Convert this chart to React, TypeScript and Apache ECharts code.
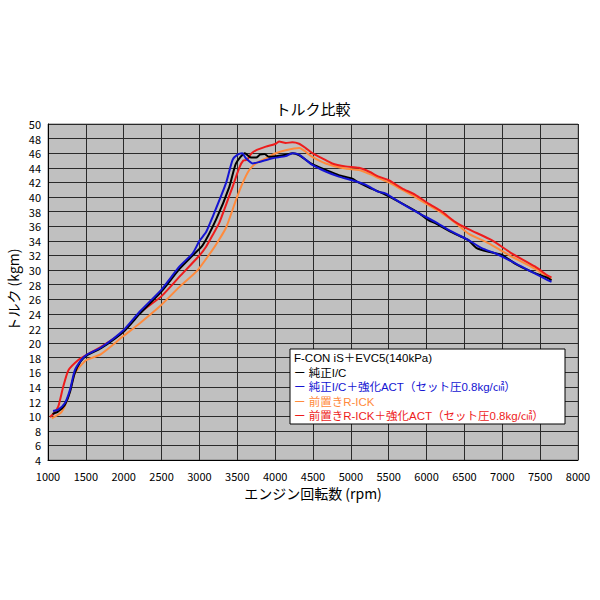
import React, { useEffect, useRef } from "react";
import * as echarts from "echarts";

const chartTitle = "トルク比較";
const xTitle = "エンジン回転数 (rpm)";
const yTitle = "トルク (kgm)";
const legendTitle = "F-CON iS＋EVC5(140kPa)";
const seriesNames = [
  "純正I/C",
  "純正I/C＋強化ACT（セット圧0.8kg/㎠）",
  "前置きR-ICK",
  "前置きR-ICK＋強化ACT（セット圧0.8kg/㎠）",
];
const seriesColors = ["#000000", "#1414d2", "#ff8a3c", "#ee1c1c"];

const blackRpm = [1060, 1130, 1220, 1290, 1350, 1430, 1510, 1700, 2000, 2210, 2500, 2740, 2910, 3043, 3219, 3395, 3483, 3600, 3680, 3750, 3800, 3860, 3920, 4010, 4140, 4230, 4320, 4490, 4670, 4840, 5020, 5100, 5240, 5460, 5680, 5900, 6030, 6120, 6290, 6450, 6553, 6662, 6816, 6991, 7167, 7386, 7605, 7650];
const blackTorque = [10.3, 10.6, 11.5, 13.3, 15.8, 17.5, 18.3, 19.3, 21.6, 24.0, 27.1, 30.2, 32.0, 33.4, 36.9, 41.4, 44.6, 46.0, 45.4, 45.4, 45.8, 45.9, 45.5, 45.6, 45.8, 46.0, 45.7, 44.5, 43.7, 43.0, 42.5, 42.0, 41.3, 40.3, 39.1, 37.8, 36.8, 36.4, 35.4, 34.6, 34.1, 33.0, 32.5, 32.1, 30.9, 29.8, 28.9, 28.6];

const blueRpm = [1066, 1135, 1224, 1290, 1355, 1440, 1510, 1700, 2000, 2210, 2496, 2737, 2912, 3000, 3088, 3175, 3351, 3438, 3504, 3565, 3614, 3702, 3790, 3965, 4140, 4228, 4316, 4491, 4667, 4842, 5017, 5193, 5368, 5456, 5675, 5895, 6114, 6290, 6553, 6728, 6904, 7123, 7342, 7605, 7650];
const blueTorque = [10.7, 10.9, 11.8, 13.6, 16.3, 17.7, 18.4, 19.4, 21.8, 24.3, 27.3, 30.5, 32.3, 34.0, 35.2, 37.3, 41.9, 45.1, 45.8, 46.0, 45.3, 44.6, 44.8, 45.3, 45.6, 46.0, 45.8, 44.4, 43.5, 42.8, 42.3, 41.7, 40.7, 40.5, 39.1, 37.8, 36.6, 35.5, 34.1, 33.0, 32.3, 31.2, 30.0, 28.6, 28.4];

const orangeRpm = [1050, 1180, 1270, 1355, 1465, 1510, 1700, 2000, 2210, 2474, 2737, 2978, 3175, 3220, 3351, 3483, 3570, 3658, 3746, 3877, 4009, 4140, 4316, 4491, 4667, 4930, 5105, 5236, 5368, 5500, 5675, 5851, 6026, 6202, 6377, 6553, 6816, 7079, 7430, 7605, 7650];
const orangeTorque = [9.7, 10.6, 12.7, 15.9, 17.3, 17.7, 18.5, 21.0, 22.7, 25.0, 27.7, 30.0, 32.8, 33.5, 35.8, 39.6, 41.9, 43.7, 44.6, 45.3, 46.0, 46.4, 46.7, 45.5, 44.6, 43.9, 43.7, 43.2, 42.6, 42.0, 41.0, 40.0, 38.9, 37.8, 36.5, 35.0, 33.7, 32.1, 30.2, 29.0, 28.8];

const redRpm = [1026, 1080, 1135, 1200, 1270, 1400, 1510, 1700, 2000, 2210, 2496, 2737, 3000, 3088, 3175, 3263, 3350, 3438, 3526, 3580, 3630, 3680, 3746, 3877, 4009, 4053, 4140, 4228, 4316, 4404, 4491, 4623, 4754, 4930, 5105, 5236, 5368, 5500, 5675, 5851, 6026, 6202, 6377, 6553, 6860, 7123, 7430, 7605, 7650];
const redTorque = [9.9, 10.4, 11.3, 14.0, 16.3, 17.7, 18.4, 19.5, 21.6, 24.1, 26.4, 29.1, 32.0, 33.2, 34.8, 36.5, 38.9, 41.4, 44.0, 45.0, 45.1, 45.9, 46.4, 46.9, 47.3, 47.6, 47.4, 47.5, 47.3, 46.7, 46.0, 45.3, 44.6, 44.2, 44.0, 43.5, 42.8, 42.3, 41.2, 40.3, 39.1, 38.0, 36.6, 35.6, 34.1, 32.3, 30.5, 29.2, 29.0];

const xMin = 1000;
const xMax = 8000;
const xStep = 500;
const yMin = 4;
const yMax = 50;
const yStep = 2;

const pair = (xs: number[], ys: number[]) => xs.map((x, i) => [x, ys[i]]);

export default function App() {
  const ref = useRef<HTMLDivElement>(null);
  useEffect(() => {
    if (!ref.current) return;
    const chart = echarts.init(ref.current, undefined, { renderer: "svg" });
    const font = "'Noto Sans CJK JP', 'DejaVu Sans', sans-serif";
    const legendFont = "'Liberation Sans', 'Noto Sans CJK JP', sans-serif";
    const datasets = [
      pair(blackRpm, blackTorque),
      pair(blueRpm, blueTorque),
      pair(orangeRpm, orangeTorque),
      pair(redRpm, redTorque),
    ];
    const order = [2, 3, 0, 1];
    const legendX = 290;
    const legendY = 349;
    const lineH = 14.5;
    chart.setOption({
      animation: false,
      backgroundColor: "#ffffff",
      grid: {
        left: 48,
        right: 22,
        top: 124,
        bottom: 140,
        show: true,
        backgroundColor: "#c0c0c0",
        borderColor: "#808080",
        borderWidth: 1,
      },
      xAxis: {
        type: "value",
        min: xMin,
        max: xMax,
        interval: xStep,
        axisLine: { show: true, lineStyle: { color: "#000", width: 1 } },
        axisTick: { show: false },
        axisLabel: {
          color: "#000",
          fontSize: 11,
          fontFamily: font,
          margin: 10,
          formatter: (v: number) => String(v),
        },
        splitLine: { show: true, lineStyle: { color: "#2a2a2a", width: 1 } },
      },
      yAxis: {
        type: "value",
        min: yMin,
        max: yMax,
        interval: yStep,
        axisLine: { show: true, lineStyle: { color: "#000", width: 1 } },
        axisTick: { show: false },
        axisLabel: { color: "#000", fontSize: 11, fontFamily: font, margin: 7 },
        splitLine: { show: true, lineStyle: { color: "#2a2a2a", width: 1 } },
      },
      series: order.map((i) => ({
        type: "line",
        name: seriesNames[i],
        data: datasets[i],
        showSymbol: false,
        symbol: "none",
        smooth: 0.2,
        lineStyle: { color: seriesColors[i], width: 2 },
        itemStyle: { color: seriesColors[i] },
        z: 3,
      })),
      graphic: [
        {
          type: "text",
          x: 313,
          y: 108,
          style: {
            text: chartTitle,
            fontSize: 15,
            fontFamily: font,
            fill: "#000",
            align: "center",
            verticalAlign: "middle",
          },
        },
        {
          type: "text",
          x: 313,
          y: 493,
          style: {
            text: xTitle,
            fontSize: 14,
            fontFamily: font,
            fill: "#000",
            align: "center",
            verticalAlign: "middle",
          },
        },
        {
          type: "text",
          x: 13,
          y: 290,
          rotation: Math.PI / 2,
          style: {
            text: yTitle,
            fontSize: 14,
            fontFamily: font,
            fill: "#000",
            align: "center",
            verticalAlign: "middle",
          },
        },
        {
          type: "rect",
          shape: { x: legendX, y: legendY, width: 275, height: 75 },
          style: { fill: "#ffffff", stroke: "#000", lineWidth: 1 },
          z: 10,
        },
        {
          type: "text",
          x: legendX + 4,
          y: legendY + 9,
          z: 11,
          style: {
            text: legendTitle,
            fontSize: 11.5,
            lineHeight: 12,
            fontFamily: legendFont,
            fill: "#000",
            verticalAlign: "middle",
          },
        },
        ...seriesNames.map((name, i) => ({
          type: "text",
          x: legendX + 4,
          y: legendY + 9 + lineH * (i + 1),
          z: 11,
          style: {
            text: "ー " + name,
            fontSize: 11.5,
            lineHeight: 12,
            fontFamily: legendFont,
            fill: seriesColors[i],
            verticalAlign: "middle",
          },
        })),
      ],
    });
    return () => chart.dispose();
  }, []);
  return (
    <div
      ref={ref}
      style={{ position: "absolute", left: 0, top: 0, width: 600, height: 600 }}
    />
  );
}
